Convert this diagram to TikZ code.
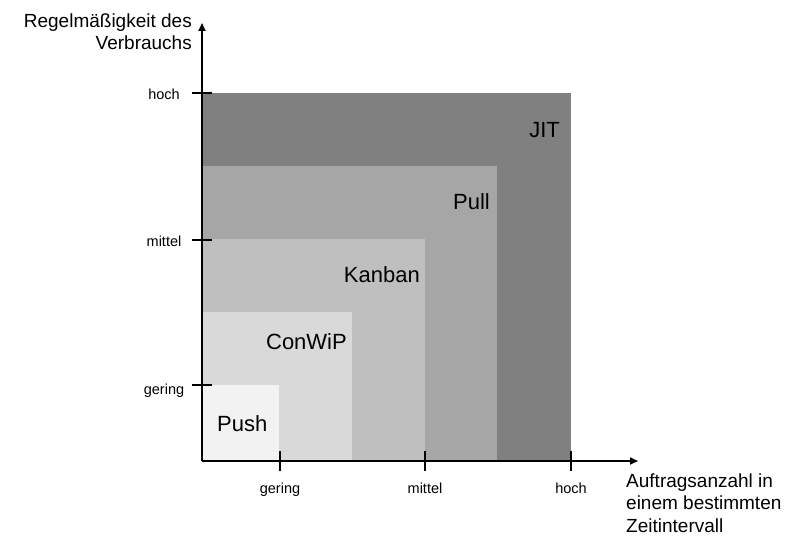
\documentclass[tikz,border=0pt]{standalone}
\usepackage{fontspec}
\setmainfont{Liberation Sans}
\usetikzlibrary{arrows.meta}
\definecolor{cjit}{HTML}{808080}
\definecolor{cpull}{HTML}{A6A6A6}
\definecolor{ckanban}{HTML}{BFBFBF}
\definecolor{cconwip}{HTML}{D9D9D9}
\definecolor{cpush}{HTML}{F2F2F2}
\begin{document}
\begin{tikzpicture}[x=1pt,y=-1pt,
  axisline/.style={line width=1.8pt,-{Triangle[length=8pt,width=7pt]}},
  tickline/.style={line width=1.8pt},
  zonelbl/.style={font=\fontsize{22}{26}\selectfont,inner sep=0pt},
  ticklbl/.style={font=\fontsize{14.5}{17}\selectfont,inner sep=0pt,anchor=base},
  axislbl/.style={font=\fontsize{19}{22.5}\selectfont,inner sep=0pt}]
\useasboundingbox (0,0) rectangle (796,540);
% zones
\fill[cjit]    (202,93)  rectangle (571,461);
\fill[cpull]   (202,166) rectangle (497,461);
\fill[ckanban] (202,239) rectangle (425,461);
\fill[cconwip] (202,312) rectangle (352,461);
\fill[cpush]   (202,385) rectangle (279,461);
% zone labels
\node[zonelbl,anchor=base east] (jit)    at (560,138) {JIT};
\node[zonelbl,anchor=base east] (pull)   at (490,210) {Pull};
\node[zonelbl,anchor=base east] (kanban) at (420,283) {Kanban};
\node[zonelbl,anchor=base east] (conwip) at (347,349) {ConWiP};
\node[zonelbl,anchor=base west] (push)   at (217,431) {Push};
% axes
\coordinate (O) at (202,461);
\coordinate (Ytip) at (202,23);
\coordinate (Xtip) at (638,461);
\draw[axisline] (O) -- (Ytip);
\draw[axisline] (O) -- (Xtip);
% ticks
\draw[tickline] (192,93) -- (212,93);
\draw[tickline] (192,240) -- (212,240);
\draw[tickline] (192,385) -- (212,385);
\draw[tickline] (280,451) -- (280,471);
\draw[tickline] (425,451) -- (425,471);
\draw[tickline] (571,451) -- (571,471);
% tick labels
\node[ticklbl] (yh) at (164,100) {hoch};
\node[ticklbl] (ym) at (164,247) {mittel};
\node[ticklbl] (yg) at (164,394) {gering};
\node[ticklbl] (xg) at (280,493) {gering};
\node[ticklbl] (xm) at (425,493) {mittel};
\node[ticklbl] (xh) at (571,493) {hoch};
% axis labels
\node[axislbl,align=right,anchor=base east] (ylab) at (192,50) {Regelmäßigkeit des\\Verbrauchs};
\node[axislbl,align=left,anchor=base west] (xlab) at (626,532) {Auftragsanzahl in\\einem bestimmten\\Zeitintervall};
\end{tikzpicture}
\end{document}
